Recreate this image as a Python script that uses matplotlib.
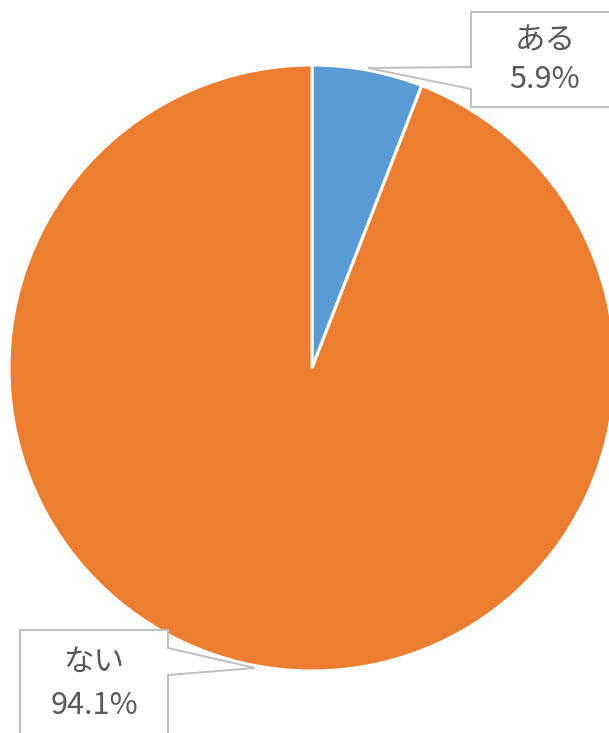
import matplotlib
matplotlib.use("Agg")
import matplotlib.pyplot as plt
from matplotlib.patches import Polygon

plt.rcParams['font.family'] = ['Noto Sans CJK JP', 'DejaVu Sans']

labels = ["ある", "ない"]
values = [5.9, 94.1]
colors = ["#5B9BD5", "#ED7D31"]
pct_labels = ["5.9%", "94.1%"]

W, H = 609, 733
fig = plt.figure(figsize=(W / 100, H / 100), dpi=100)
ax = fig.add_axes([0, 0, 1, 1])

def Y(y):
    return H - y

ax.pie(values, colors=colors, startangle=90, counterclock=False,
       center=(312, Y(368)), radius=303,
       wedgeprops=dict(edgecolor="white", linewidth=2.2))

ax.set_xlim(0, W)
ax.set_ylim(0, H)
ax.set_aspect('equal')
ax.axis('off')

edge = "#BFBFBF"
box1 = [(471, 12), (620, 12), (620, 107), (471, 107), (471, 89), (368, 68), (471, 67)]
box2 = [(20, 630), (168, 630), (168, 648), (255, 668), (168, 675), (168, 745), (20, 745)]
for pts in (box1, box2):
    ax.add_patch(Polygon([(x, Y(y)) for x, y in pts], closed=True,
                         facecolor="white", edgecolor=edge, linewidth=1.4, zorder=5))

tc = "#595959"
fs_j = 22
fs_n = 22
ax.text(545, Y(41), labels[0], ha="center", va="center", fontsize=fs_j, color=tc, zorder=6)
ax.text(545, Y(80), pct_labels[0], ha="center", va="center", fontsize=fs_n, color=tc, zorder=6)
ax.text(94, Y(662), labels[1], ha="center", va="center", fontsize=fs_j, color=tc, zorder=6)
ax.text(94, Y(706), pct_labels[1], ha="center", va="center", fontsize=fs_n, color=tc, zorder=6)

fig.savefig("out.png", dpi=100)
